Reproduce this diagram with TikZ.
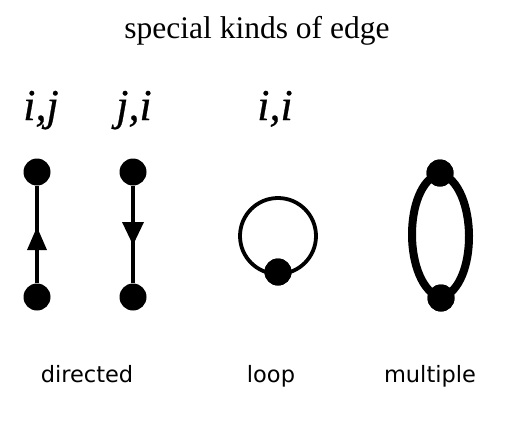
\documentclass[tikz,border=0pt]{standalone}
\usepackage{fontspec}
\setmainfont{Liberation Serif}
\newfontfamily\labfont{DejaVu Sans}
\newfontfamily\idxfont{Liberation Serif Italic}[FakeBold=0.6]
\tikzset{
  vtx/.style={circle,fill=black,inner sep=0pt,minimum size=27pt},
  edgeline/.style={line width=3.8pt},
  tip/.style={fill=black},
  ttltext/.style={font=\fontsize{31.5}{33}\selectfont,anchor=base},
  idxtext/.style={font=\idxfont\fontsize{44}{46}\selectfont,anchor=base},
  captext/.style={font=\labfont\fontsize{22.5}{25}\selectfont,anchor=base},
}
\begin{document}
\begin{tikzpicture}[x=1pt,y=-1pt]
\useasboundingbox (0,0) rectangle (529,423);
\node[ttltext] (t) at (257,38) {special kinds of edge};
\node[idxtext] (l1) at (41,120) {i,j};
\node[idxtext] (l2) at (134,120) {j,i};
\node[idxtext] (l3) at (275,120) {i,i};
% directed up
\node[vtx] (a1) at (37,172) {};
\node[vtx] (a2) at (37,297) {};
\draw[edgeline] (a2) -- (a1);
\coordinate (ta) at (37,227);
\fill[tip] (ta) -- ++(-10,23) -- ++(20,0) -- cycle;
% directed down
\node[vtx] (b1) at (133,172) {};
\node[vtx] (b2) at (133,297) {};
\draw[edgeline] (b1) -- (b2);
\coordinate (tb) at (133,245);
\fill[tip] (tb) -- ++(-11,-23) -- ++(22,0) -- cycle;
% loop
\node[vtx] (c1) at (278,272) {};
\draw[line width=3.8pt] (c1.center) ++(0,-36) circle (38);
\node[vtx] at (278,272) {};
% multiple
\node[vtx] (d1) at (440,173) {};
\node[vtx] (d2) at (441,298) {};
\draw[line width=8pt] (d1.center) .. controls +(-38,12) and +(-38,-12) .. (d2.center);
\draw[line width=8pt] (d1.center) .. controls +(38,12) and +(38,-12) .. (d2.center);
\node[vtx] at (440,173) {};
\node[vtx] at (441,298) {};
% captions
\node[captext] (e1) at (87,382) {directed};
\node[captext] (e2) at (271,382) {loop};
\node[captext] (e3) at (430,382) {multiple};
\end{tikzpicture}
\end{document}
